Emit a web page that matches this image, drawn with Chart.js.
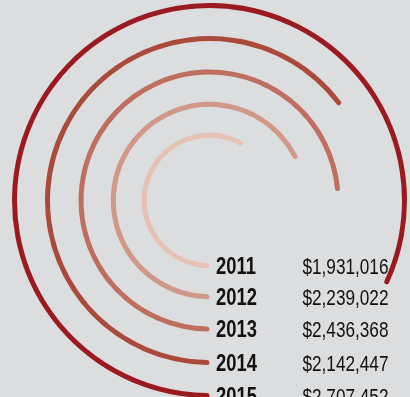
<!DOCTYPE html>
<html>
<head>
<meta charset="utf-8">
<script src="https://cdn.jsdelivr.net/npm/chart.js@4.4.1/dist/chart.umd.min.js"></script>
<style>
    html, body { margin: 0; padding: 0; background: #dcdddf; overflow: hidden; }
    #wrap { width: 410px; height: 397px; position: relative; }
</style>
</head>
<body>
<div id="wrap"><canvas id="chart-rings"></canvas></div>
<script>
var years = ['2011', '2012', '2013', '2014', '2015'];
var totals = [1931016, 2239022, 2436368, 2142447, 2707452];
var scaleMax = 3300000; // value of a full circle

var ringColors = ['#e6c2b5', '#d09886', '#bf6f5f', '#a94a3b', '#9a1a1f'];
var ringWidth = 5;
var ringGaps = [28, 28.5, 27.3, 25.9]; // outer -> inner
var outerEdge = 197.5;
var labelFont = '"Liberation Sans", Arial, sans-serif';
var squeeze = 0.8; // narrow the text like a condensed face

function money(v) {
    return '$' + String(v).replace(/\B(?=(\d{3})+(?!\d))/g, ',');
}

// rings from outer (2015) to inner (2011), empty datasets make the gaps
var datasets = [];
var totalWeight = 0;
for (let i = years.length - 1; i >= 0; i--) {
    datasets.push({
        label: years[i],
        data: [totals[i], scaleMax - totals[i]],
        backgroundColor: [ringColors[i], 'rgba(0,0,0,0)'],
        borderWidth: 0,
        hoverBorderWidth: 0,
        hoverOffset: 0,
        borderRadius: ringWidth / 2,
        weight: ringWidth,
    });
    totalWeight += ringWidth;
    if (i > 0) {
        var gap = ringGaps[years.length - 1 - i];
        datasets.push({ label: 'gap', data: [], weight: gap });
        totalWeight += gap;
    }
}
var innerEdge = outerEdge - totalWeight;

function narrowText(ctx, text, x, y, align, font) {
    ctx.save();
    ctx.translate(x, y);
    ctx.scale(squeeze, 1);
    ctx.textAlign = align;
    ctx.font = font;
    ctx.fillText(text, 0, 0);
    ctx.restore();
}

// year + amount next to the start of each ring
var rowLabels = {
    id: 'rowLabels',
    afterDatasetsDraw(chart) {
        const ctx = chart.ctx;
        ctx.save();
        ctx.fillStyle = '#111';
        ctx.textBaseline = 'alphabetic';
        chart.data.datasets.forEach(function(ds, index) {
            if (ds.label === 'gap') return;
            const meta = chart.getDatasetMeta(index);
            const arc = meta.data[0];
            const midR = (meta.controller.innerRadius + meta.controller.outerRadius) / 2;
            const y = arc.y + midR + 8.4;
            narrowText(ctx, ds.label, arc.x + 6.5, y, 'left', 'bold 23px ' + labelFont);
            narrowText(ctx, money(ds.data[0]), arc.x + 179, y, 'right', '21.5px ' + labelFont);
        });
        ctx.restore();
    }
};

const ctx = document.getElementById('chart-rings').getContext('2d');
myChart = new Chart(ctx, {
    type: 'doughnut',
    data: {
        labels: ['value', 'rest'],
        datasets: datasets,
    },
    options: {
        responsive: true,
        maintainAspectRatio: false,
        animation: false,
        events: [],
        rotation: 180,
        radius: outerEdge,
        cutout: (innerEdge / outerEdge * 100) + '%',
        layout: {
            padding: { left: 9, top: 4, right: 0, bottom: 0 }
        },
        plugins: {
            legend: { display: false },
            tooltip: { enabled: false },
        },
    },
    plugins: [rowLabels],
});
</script>
</body>
</html>
